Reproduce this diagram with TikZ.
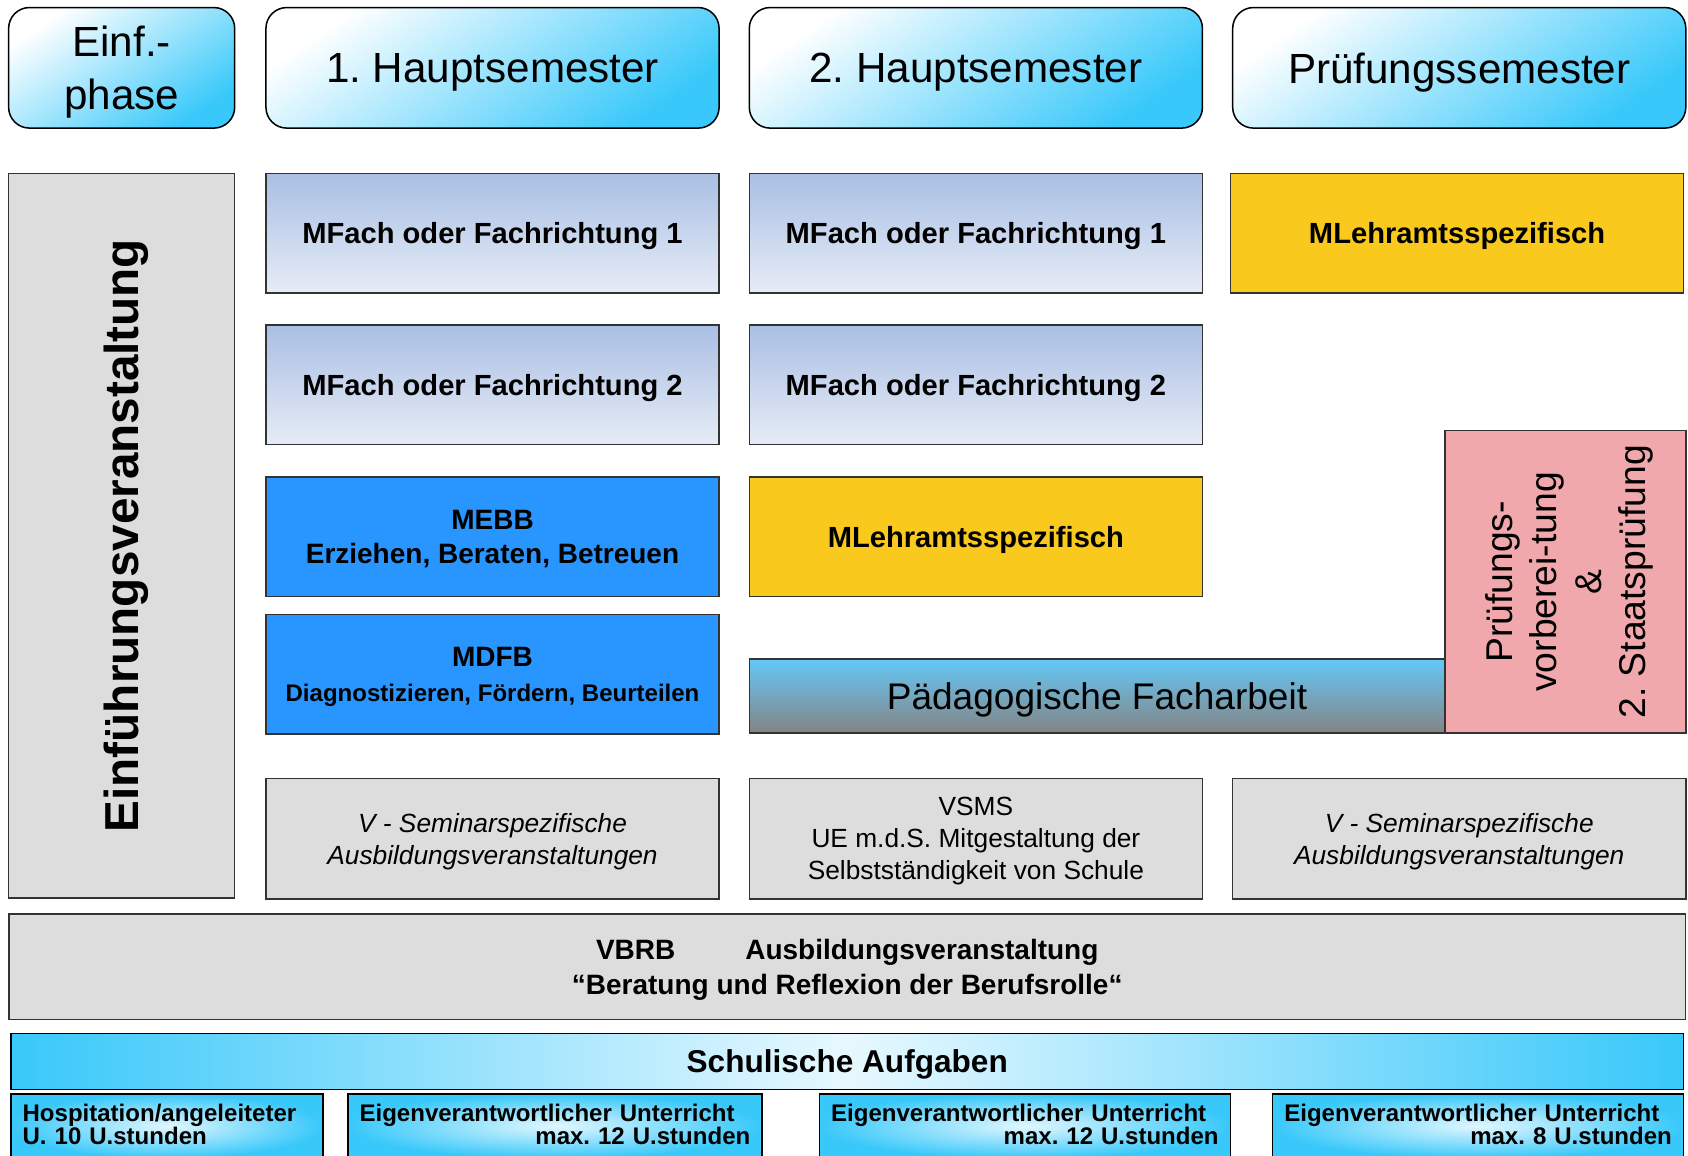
\documentclass[tikz,border=0pt]{standalone}
\usepackage{fontspec}
\setmainfont{Liberation Sans}
\usepackage[]{xcolor}
\frenchspacing
\definecolor{headcyan}{RGB}{56,200,250}
\definecolor{fachtop}{RGB}{170,191,228}
\definecolor{fachbot}{RGB}{230,236,246}
\definecolor{mblue}{RGB}{41,149,255}
\definecolor{lgelb}{RGB}{249,201,30}
\definecolor{vgrau}{RGB}{221,221,221}
\definecolor{prosa}{RGB}{240,168,172}
\definecolor{paedtop}{RGB}{100,200,248}
\definecolor{paedbot}{RGB}{132,132,132}

\begin{document}
\begin{tikzpicture}[
            x=0.02cm, y=-0.02cm,
            base/.style={rectangle, draw=black!80, line width=0.8pt, inner sep=0pt, text depth=0pt, align=center},
            kopf/.style={base, draw=black, rounded corners=11pt, top color=white, bottom color=headcyan, shading angle=35, minimum width=8.42cm, minimum height=2.24cm, font=\fontsize{22.3}{28}\selectfont},
            fach/.style={base, top color=fachtop, bottom color=fachbot, minimum width=8.42cm, minimum height=2.22cm, font=\fontsize{15.4}{18.2}\selectfont\bfseries},
            modul/.style={base, fill=mblue, minimum width=8.42cm, minimum height=2.22cm, font=\fontsize{14.8}{18.2}\selectfont\bfseries},
            lehr/.style={base, fill=lgelb, minimum width=8.42cm, minimum height=2.22cm, font=\fontsize{15.4}{18.2}\selectfont\bfseries},
            vbox/.style={base, fill=vgrau, minimum width=8.42cm, minimum height=2.24cm, font=\fontsize{13.9}{17}\selectfont},
            aufgabe/.style={base, draw=black, shading=radial, inner color=headcyan!15, outer color=headcyan, minimum height=1.2cm, text depth=14pt, align=left, font=\fontsize{12.7}{12.2}\selectfont\bfseries}
        ]
            \useasboundingbox (0,0) rectangle (1568,1073);

            \node[kopf, minimum width=4.2cm] (einf) at (113,63) {Einf.-\\phase};
            \node[kopf] (hs1) at (457.5,63) {1. Hauptsemester};
            \node[kopf] (hs2) at (906.5,63) {2. Hauptsemester};
            \node[kopf] (psem) at (1355.5,63) {Prüfungssemester};

            \node[base, fill=vgrau, minimum width=4.2cm, minimum height=13.46cm] (einfv) at (113,497.5) {};
            \node[rotate=90, text depth=0pt, font=\fontsize{25.2}{30}\selectfont\bfseries] (einfvtext) at (einfv.center) {Einführungsveranstaltung};

            \node[fach] (fach11) at (457.5,216.5) {MFach oder Fachrichtung 1};
            \node[fach] (fach12) at (457.5,357.5) {MFach oder Fachrichtung 2};
            \node[modul] (mebb) at (457.5,498.5) {MEBB\\Erziehen, Beraten, Betreuen};
            \node[modul] (mdfb) at (457.5,626.5) {MDFB\\{\fontsize{12.7}{14}\selectfont Diagnostizieren, Fördern, Beurteilen}};
            \node[vbox, font=\fontsize{13.9}{17}\selectfont\itshape] (v1) at (457.5,779) {V - Seminarspezifische\\Ausbildungsveranstaltungen};

            \node[fach] (fach21) at (906.5,216.5) {MFach oder Fachrichtung 1};
            \node[fach] (fach22) at (906.5,357.5) {MFach oder Fachrichtung 2};
            \node[lehr] (lehr2) at (906.5,498.5) {MLehramtsspezifisch};
            \node[vbox] (vsms) at (906.5,779) {VSMS\\UE m.d.S. Mitgestaltung der\\Selbstständigkeit von Schule};

            \node[lehr] (lehr3) at (1353.5,216.5) {MLehramtsspezifisch};
            \node[vbox, font=\fontsize{13.9}{17}\selectfont\itshape] (v3) at (1355.5,779) {V - Seminarspezifische\\Ausbildungsveranstaltungen};

            \node[base, top color=paedtop, bottom color=paedbot, minimum width=12.92cm, minimum height=1.38cm, font=\fontsize{19.6}{24}\selectfont] (paed) at (1019,646.5) {Pädagogische Facharbeit};
            \node[base, fill=prosa, minimum width=4.48cm, minimum height=5.62cm] (pruef) at (1454,540.5) {};
            \node[rotate=90, align=center, text depth=0pt, font=\fontsize{19.7}{23.5}\selectfont] (prueftext) at (pruef.center) {Prüfungs-\\vorberei-tung\\\&\\2. Staatsprüfung};

            \node[base, fill=vgrau, minimum width=31.16cm, minimum height=1.96cm, font=\fontsize{14.8}{18.2}\selectfont\bfseries] (vbrb) at (787,898) {VBRB\hspace{2.5em}Ausbildungsveranstaltung\\“Beratung und Reflexion der Berufsrolle“};
            \node[base, draw=black, left color=headcyan, right color=headcyan, middle color=headcyan!12, minimum width=31.08cm, minimum height=1.04cm, font=\fontsize{16.7}{20}\selectfont\bfseries] (schul) at (787,986) {Schulische Aufgaben};

            \node[aufgabe, minimum width=5.8cm, text width=5.36cm] (auf1) at (155,1046) {Hospitation/angeleiteter\\U. 10 U.stunden};
            \node[aufgabe, minimum width=7.7cm, text width=7.26cm] (auf2) at (515.5,1046) {Eigenverantwortlicher Unterricht\\\makebox[\linewidth][r]{max. 12 U.stunden}};
            \node[aufgabe, minimum width=7.64cm, text width=7.2cm] (auf3) at (952,1046) {Eigenverantwortlicher Unterricht\\\makebox[\linewidth][r]{max. 12 U.stunden}};
            \node[aufgabe, minimum width=7.64cm, text width=7.2cm] (auf4) at (1373,1046) {Eigenverantwortlicher Unterricht\\\makebox[\linewidth][r]{max. 8 U.stunden}};
        \end{tikzpicture}
\end{document}
